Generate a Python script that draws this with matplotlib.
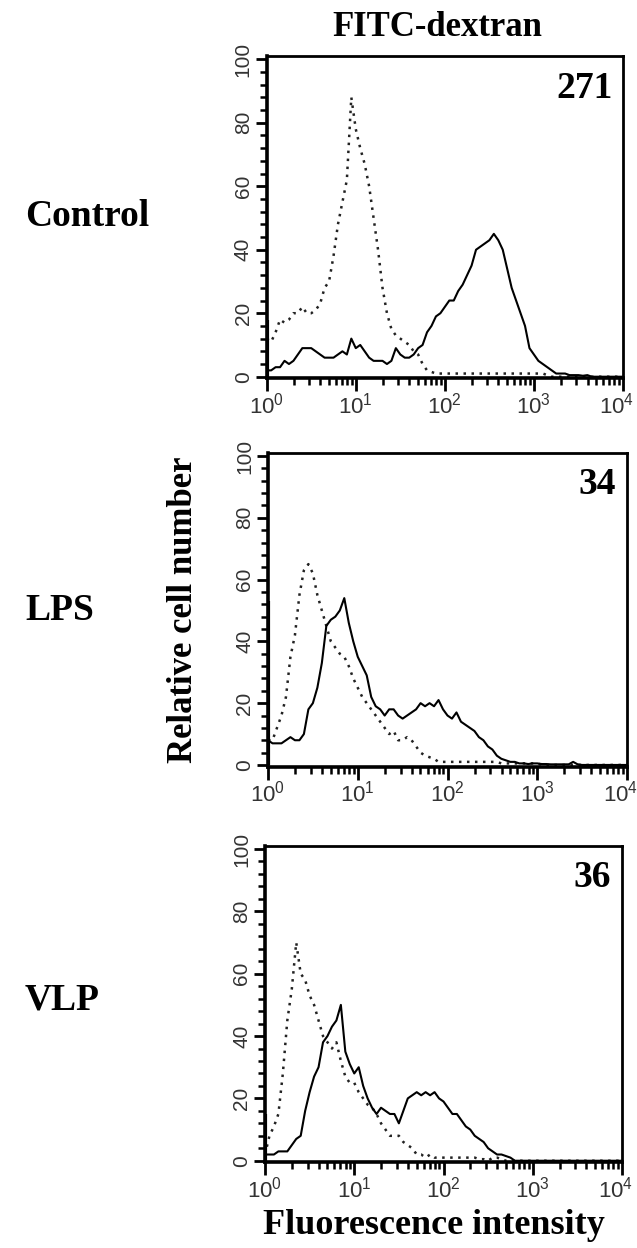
import numpy as np
import matplotlib
matplotlib.use('Agg')
import matplotlib.pyplot as plt
import matplotlib.transforms as mtransforms
from matplotlib.ticker import LogLocator, MultipleLocator, FixedLocator

plt.rcParams['font.family'] = 'Liberation Sans'
plt.rcParams['mathtext.fontset'] = 'custom'
plt.rcParams['mathtext.rm'] = 'Liberation Sans'
plt.rcParams['mathtext.it'] = 'Liberation Sans'

# channel grid, log10 of fluorescence, 0.05 decade steps
log_channels = np.linspace(0, 4, 81)

# height of the pile-up at the left edge (first channel) of each solid curve
edge_spike = [18, 53, 15]

ctrl_solid = [2, 2, 3, 3, 5, 4, 5, 7, 9, 9,
              9, 8, 7, 6, 6, 6, 7, 8, 7, 12,
              9, 10, 8, 6, 5, 5, 5, 4, 5, 9,
              7, 6, 6, 7, 9, 10, 14, 16, 19, 20,
              22, 24, 24, 27, 29, 32, 35, 40, 41, 42,
              43, 45, 43, 40, 34, 28, 24, 20, 16, 9,
              7, 5, 4, 3, 2, 1, 1, 1, 0.5, 0.5,
              0.5, 0.3, 0.5, 0, 0, 0, 0, 0, 0, 0,
              0]
ctrl_dot = [12, 11, 14, 18, 17, 18, 20, 20, 22, 20,
            20, 21, 23, 28, 30, 38, 48, 55, 62, 88,
            78, 72, 67, 60, 50, 40, 28, 20, 15, 13,
            12, 11, 10, 8, 7, 4, 2, 1.5, 1, 1,
            1, 1, 1, 1, 1, 1, 1, 1, 1, 1,
            1, 1, 1, 1, 1, 1, 1, 1, 1, 1,
            1, 1, 1, 0.5, 0, 0, 0, 0, 0, 0,
            0, 0, 0, 0, 0, 0, 0, 0, 0, 0,
            0]

lps_solid = [8, 7, 7, 7, 8, 9, 8, 8, 10, 18,
             20, 25, 33, 45, 47, 48, 50, 54, 46, 40,
             35, 32, 29, 22, 19, 18, 16, 18, 18, 16,
             15, 16, 17, 18, 20, 19, 20, 19, 21, 18,
             16, 15, 17, 14, 13, 12, 11, 9, 8, 6,
             5, 3, 2, 1.5, 1, 1, 0.5, 0.5, 0.3, 0.5,
             0.5, 0.3, 0.3, 0.2, 0.2, 0.2, 0.2, 0.2, 1, 0.2,
             0, 0, 0, 0, 0, 0, 0, 0, 0, 0,
             0]
lps_dot = [8, 8, 12, 16, 22, 35, 42, 55, 63, 65,
           62, 55, 50, 45, 40, 38, 36, 35, 32, 28,
           25, 22, 20, 18, 16, 14, 12, 10, 11, 8,
           8, 9, 8, 6, 4, 3, 2.5, 2, 1, 1,
           1, 1, 1, 1, 1, 1, 1, 1, 1, 1,
           1, 1, 0.5, 0.5, 0.5, 0.5, 0.5, 0.5, 0.5, 0.5,
           0.5, 0, 0, 0, 0, 0, 0, 0, 0, 0,
           0, 0, 0, 0, 0, 0, 0, 0, 0, 0,
           0]

vlp_solid = [2, 2, 2, 3, 3, 3, 5, 7, 8, 16,
             22, 27, 30, 38, 40, 43, 45, 50, 35, 31,
             28, 30, 24, 20, 17, 15, 17, 16, 15, 15,
             12, 16, 20, 21, 22, 21, 22, 21, 22, 20,
             19, 17, 15, 15, 13, 11, 10, 8, 7, 6,
             4, 3, 2, 2, 1.5, 1, 0, 0, 0, 0,
             0, 0, 0, 0, 0, 0, 0, 0, 0, 0,
             0, 0, 0, 0, 0, 0, 0, 0, 0, 0,
             0]
vlp_dot = [2, 8, 11, 15, 28, 45, 55, 70, 60, 58,
           53, 50, 45, 40, 38, 36, 38, 32, 27, 25,
           25, 22, 20, 18, 17, 15, 12, 10, 8, 8,
           8, 6, 5, 4, 2, 2, 1, 2, 1, 1,
           1, 1, 1, 1, 1, 1, 1, 1, 0.5, 0.5,
           0, 1, 1, 0.5, 0, 0, 0, 0, 0, 0,
           0, 0, 0, 0, 0, 0, 0, 0, 0, 0,
           0, 0, 0, 0, 0, 0, 0, 0, 0, 0,
           0]

row_labels = ['Control', 'LPS', 'VLP']
mfi_values = ['271', '34', '36']
solid_series = [ctrl_solid, lps_solid, vlp_solid]
dot_series = [ctrl_dot, lps_dot, vlp_dot]

W, H = 637, 1248
fig = plt.figure(figsize=(W / 100, H / 100), dpi=100)

# axes boxes in pixels: left, right, top, bottom
boxes = [(266.7, 623, 56.1, 378.3),
         (268, 627, 452.9, 766.5),
         (265, 622, 845.9, 1162.3)]
label_y = [217, 610, 1000]

serif = 'Liberation Serif'
x = 10 ** log_channels
nudge = mtransforms.ScaledTranslation(-6 / 100, 0, fig.dpi_scale_trans)

for i in range(3):
    l, r, t, b = boxes[i]
    ax = fig.add_axes([l / W, 1 - b / H, (r - l) / W, (b - t) / H])
    ax.plot(x, dot_series[i], color='#222222', ls=(0, (1, 2.2)), lw=1.8)
    ax.plot(x, solid_series[i], color='black', lw=1.5)
    ax.vlines(1.01, 0, edge_spike[i], color='black', lw=3)
    ax.set_xscale('log')
    ax.set_xlim(1, 1e4)
    ax.set_ylim(-0.5, 101)
    ax.xaxis.set_major_locator(FixedLocator([1, 10, 100, 1000, 10000]))
    ax.xaxis.set_minor_locator(LogLocator(base=10, subs=np.arange(2, 10), numticks=20))
    ax.set_xticklabels(['$10^{0}$', '$10^{1}$', '$10^{2}$', '$10^{3}$', '$10^{4}$'])
    ax.yaxis.set_major_locator(MultipleLocator(20))
    ax.yaxis.set_minor_locator(MultipleLocator(4))
    ax.tick_params(axis='both', which='major', direction='out', length=8, width=2,
                   labelsize=15, labelcolor='#333333', pad=2)
    ax.tick_params(axis='x', which='major', length=9, labelsize=16, pad=1)
    ax.tick_params(axis='both', which='minor', direction='out', length=5, width=1.8)
    for lab in ax.get_yticklabels():
        lab.set_rotation(90)
        lab.set_va('center')
    last = ax.get_xticklabels()[-1]
    last.set_transform(last.get_transform() + nudge)
    for s in ['left', 'bottom']:
        ax.spines[s].set_linewidth(2.6)
    for s in ['top', 'right']:
        ax.spines[s].set_linewidth(2.0)
    ax.text(0.97, 0.9, mfi_values[i], transform=ax.transAxes, ha='right', va='center',
            fontsize=27, fontweight='bold', family=serif)
    fig.text(25 / W, 1 - label_y[i] / H, row_labels[i], ha='left', va='center',
             fontsize=27, fontweight='bold', family=serif)

fig.text(437 / W, 1 - 28 / H, 'FITC-dextran', ha='center', va='center',
         fontsize=25, fontweight='bold', family=serif)
fig.text(183 / W, 1 - 610 / H, 'Relative cell number', ha='center', va='center',
         rotation=90, fontsize=25, fontweight='bold', family=serif)
fig.text(434 / W, 1 - 1226 / H, 'Fluorescence intensity', ha='center', va='center',
         fontsize=26, fontweight='bold', family=serif)

fig.savefig('out.png', dpi=100, facecolor='white')
